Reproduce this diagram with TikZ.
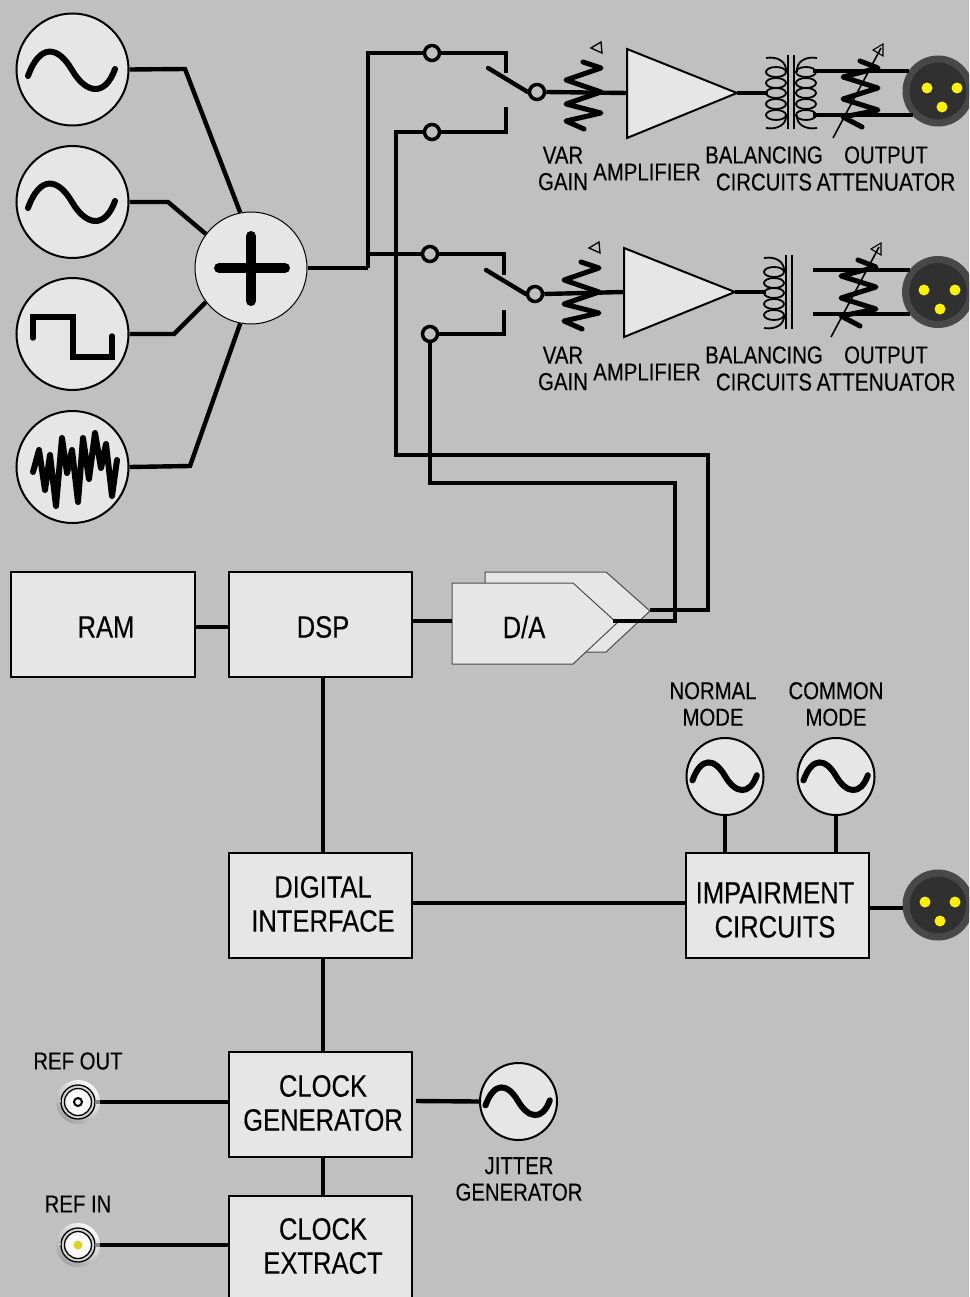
\documentclass[tikz,border=0pt]{standalone}
\usepackage{fontspec}
\setmainfont[FakeStretch=0.83,FakeBold=0.25]{Liberation Sans}
\definecolor{bg}{HTML}{C0C0C0}
\definecolor{pale}{HTML}{E6E6E6}
\definecolor{xlrout}{HTML}{484848}
\definecolor{xlrin}{HTML}{303030}
\tikzset{
  wire/.style={line width=4.4pt,line join=miter,line cap=butt},
  wave/.style={line width=6pt,line cap=round,line join=round},
  zig/.style={line width=5pt,line cap=round,line join=round},
  coil/.style={line width=1.8pt},
  osc/.style={circle,draw=black,line width=2pt,fill=pale,inner sep=0pt,minimum size=112pt},
  oscs/.style={circle,draw=black,line width=2pt,fill=pale,inner sep=0pt,minimum size=77pt},
  term/.style={circle,draw=black,line width=3.5pt,fill=bg,inner sep=0pt,minimum size=15pt},
  boxn/.style={rectangle,draw=black,line width=1.6pt,fill=pale,inner sep=0pt,minimum width=183pt,minimum height=105pt},
  bigl/.style={inner sep=0pt,align=center,font=\bigtxt},
  lab/.style={inner sep=0pt,align=center,font=\smalltxt},
  xlrn/.style={circle,fill=xlrin,draw=xlrout,line width=7pt,inner sep=0pt,minimum size=64pt},
  pin/.style={circle,fill=yellow,inner sep=0pt,minimum size=11pt},
  bncn/.style={circle,inner sep=0pt,minimum size=44pt,top color=white!90!bg,bottom color=bg!85!black,shading angle=-35},
  sinewave/.pic={\draw[wave] (-44,6) .. controls (-32,-27) and (-14,-24) .. (0,0) .. controls (14,24) and (33,27) .. (43,-1);},
  channelzig/.pic={
    \draw[zig] (583,62) -- (601,68) -- (566,80) -- (601,92) -- (566,104) -- (601,113) -- (566,121) -- (584,129);
    \draw[line width=1.3pt] (591,48) -- (601,42) -- (602,53) -- cycle;
    \draw[coil] (766,58) .. controls (778,56) and (787,62) .. (786,72);
    \foreach \yy in {72,83,93,104,115} \draw[coil] (776,\yy) ellipse [x radius=10,y radius=5];
    \draw[coil] (766,128) .. controls (778,130) and (787,124) .. (786,115);
    \draw[line width=1.6pt] (788,55) -- (788,129) (794,55) -- (794,129);
  },
  attzig/.pic={
    \draw[zig] (860,61) -- (878,68) -- (843,77) -- (878,88) -- (843,99) -- (878,110) -- (843,117) -- (862,127);
    \draw[line width=1.6pt] (833,138) -- (881,48);
    \draw[line width=1.1pt] (873,50) -- (883,44) -- (883,56) -- cycle;
  }
}
\newcommand{\bigtxt}{\fontsize{30.8}{34}\selectfont}
\newcommand{\smalltxt}{\fontsize{24.5}{26.5}\selectfont}
\begin{document}
\begin{tikzpicture}[x=1pt,y=-1pt]
\useasboundingbox (0,0) rectangle (969,1297);
\clip (0,0) rectangle (969,1297);
\fill[bg] (0,0) rectangle (969,1297);

% sources and mixer
\node[osc] (o1) at (72.5,69.5) {};
\node[osc] (o2) at (72.5,202) {};
\node[osc] (o3) at (72.5,334) {};
\node[osc] (o4) at (72.5,467) {};
\node[circle,draw=black,line width=1pt,fill=pale,inner sep=0pt,minimum size=112pt] (mix) at (251,268) {};
\draw[line width=10pt,line cap=round] (219,268) -- (285,268) (251,236) -- (251,301);
\pic at (72,70) {sinewave};
\pic at (72,202) {sinewave};
\draw[wave,line width=5.5pt,line join=miter] (33,338) -- (33,317) -- (73,317) -- (73,357) -- (112,357) -- (112,336);
\draw[line width=6pt,line cap=round,line join=round] (33,472) -- (39,450) -- (45,490) -- (50,455) -- (56,506) -- (62,438) -- (67,473) -- (72,450) -- (78,502) -- (83,438) -- (89,479) -- (95,433) -- (101,468) -- (106,444) -- (112,496) -- (117,460);
\draw[wire] (o1.east) -- (185,69) -- (mix.101.7);
\draw[wire] (o2.east) -- (168,202) -- (mix.143);
\draw[wire] (o3.east) -- (174,334) -- (mix.217);
\draw[wire] (o4.east) -- (190,466) -- (mix.259);

% switch terminals
\node[term] (s1a) at (432,53) {};
\node[term] (s1b) at (432,132) {};
\node[term] (s1o) at (537,92) {};
\node[term] (s2a) at (430,254) {};
\node[term] (s2b) at (430,334) {};
\node[term] (s2o) at (535,294) {};
\coordinate (j) at (368,268);
\draw[wire] (mix.east) -- (j);
\draw[wire] (j) -- (368,53) -- (s1a.west);
\draw[wire] (368,254) -- (s2a.west);
\draw[wire] (s1a.east) -- (506,53) -- (506,73);
\draw[wire] (s1b.east) -- (506,132) -- (506,107);
\draw[wire,line cap=round] (488,68) -- (s1o.west);
\draw[wire] (s2a.east) -- (504,254) -- (504,275);
\draw[wire] (s2b.east) -- (504,334) -- (504,310);
\draw[wire,line cap=round] (486,270) -- (s2o.west);

% channel 1
\coordinate (a1i) at (627,93);
\coordinate (a1o) at (737,93);
\filldraw[fill=pale,draw=black,line width=2pt] (627,49) -- (a1o) -- (627,138) -- cycle;
\draw[wire] (s1o.east) -- (a1i);
\pic at (0,0) {channelzig};
\draw[wire] (a1o) -- (768,93);
\draw[coil] (817,58) .. controls (805,56) and (796,62) .. (797,72);
\foreach \yy in {72,83,93,104,115} \draw[coil] (806,\yy) ellipse [x radius=10,y radius=5];
\draw[coil] (817,128) .. controls (805,130) and (796,124) .. (797,115);
\node[xlrn] (x1) at (938,91) {};
\node[pin] at (927,88) {};
\node[pin] at (957,88) {};
\node[pin] at (942,107) {};
\coordinate (t1a) at (813,71);
\coordinate (t1b) at (813,115);
\draw[wire] (t1a) -- (x1.145.2 |- t1a);
\draw[wire] (t1b) -- (913,115);
\pic at (0,0) {attzig};

% channel 2
\coordinate (a2i) at (624,292);
\coordinate (a2o) at (735,292);
\filldraw[fill=pale,draw=black,line width=2pt] (624,248) -- (a2o) -- (624,337) -- cycle;
\draw[wire] (s2o.east) -- (a2i);
\pic at (-2,200) {channelzig};
\draw[wire] (a2o) -- (766,292);
\node[xlrn,minimum size=65pt] (x2) at (938,292) {};
\node[pin] at (924,290) {};
\node[pin] at (955,290) {};
\node[pin] at (940,309) {};
\coordinate (t2a) at (813,270);
\coordinate (t2b) at (813,314);
\draw[wire] (t2a) -- (910,270);
\draw[wire] (t2b) -- (910,314);
\pic at (-2,199) {attzig};

% channel labels
\node[lab] at (563,168.5) {VAR\\GAIN};
\node[lab] at (647,172) {AMPLIFIER};
\node[lab] at (764,155) {BALANCING};
\node[lab] at (764,182) {CIRCUITS};
\node[lab] at (886,155) {OUTPUT};
\node[lab,font=\fontsize{25.3}{26.5}\selectfont] at (886,182) {ATTENUATOR};
\node[lab] at (563,368.5) {VAR\\GAIN};
\node[lab] at (647,372) {AMPLIFIER};
\node[lab] at (764,355) {BALANCING};
\node[lab] at (764,382) {CIRCUITS};
\node[lab] at (886,355) {OUTPUT};
\node[lab,font=\fontsize{25.3}{26.5}\selectfont] at (886,382) {ATTENUATOR};

% blocks
\node[boxn,minimum width=184pt] (ram) at (103,624.5) {};
\node[boxn] (dsp) at (320.5,624.5) {};
\node[boxn] (dig) at (320.5,905.5) {};
\node[boxn] (imp) at (777.5,905.5) {};
\node[boxn] (clk) at (320.5,1104.5) {};
\node[boxn] (ext) at (320.5,1248.5) {};
\node[bigl] at (106,627) {RAM};
\node[bigl] at (323,627) {DSP};
\node[bigl] at (323,904) {DIGITAL\\INTERFACE};
\node[bigl] at (775,910) {IMPAIRMENT\\CIRCUITS};
\node[bigl] at (323,1103) {CLOCK\\GENERATOR};
\node[bigl] at (323,1246) {CLOCK\\EXTRACT};

% D/A
\filldraw[fill=pale,draw=black!70,line width=1pt] (485,572) -- (606,572) -- (650,611) -- (606,652) -- (485,652) -- cycle;
\filldraw[fill=pale,draw=black!70,line width=1pt] (452,583) -- (573,583) -- (617,623) -- (573,664) -- (452,664) -- cycle;
\node[bigl] (da) at (524,627) {D/A};
\coordinate (da1) at (650,610);
\coordinate (da2) at (613,621);
\coordinate (dain) at (452,621);

% routing
\draw[wire] (s1b.west) -- (396,132) -- (396,455) -- (708,455) -- (708,610) -- (da1);
\draw[wire] (s2b.south) -- (430,483) -- (675,483) -- (675,621) -- (da2);

\coordinate (v) at (323,0);
\coordinate (h) at (0,903);
\draw[wire] (ram.east |- 0,627) -- (dsp.west |- 0,627);
\draw[wire] (dsp.east |- dain) -- (dain);
\draw[wire] (dsp.south -| v) -- (dig.north -| v);
\draw[wire] (dig.east |- h) -- (imp.west |- h);
\draw[wire] (dig.south -| v) -- (clk.north -| v);
\draw[wire] (clk.south -| v) -- (ext.north -| v);

% impairment
\node[oscs] (nm) at (725,776.5) {};
\node[oscs] (cm) at (836,776.5) {};
\pic[scale=.74] at (725,776) {sinewave};
\pic[scale=.74] at (836,776) {sinewave};
\draw[wire] (nm.south) -- (nm.south |- imp.north);
\draw[wire] (cm.south) -- (cm.south |- imp.north);
\node[xlrn] (x3) at (938,905) {};
\node[pin] at (925,902) {};
\node[pin] at (955,902) {};
\node[pin] at (940,921) {};
\draw[wire] (imp.east |- 0,908) -- (x3.west |- 0,908);
\node[lab] at (713,704) {NORMAL\\MODE};
\node[lab] at (836,704) {COMMON\\MODE};

% clock
\node[oscs] (jit) at (518.5,1101.5) {};
\pic[scale=.74] at (518,1101) {sinewave};
\draw[wire] (416,1101) -- (jit.west);
\node[lab] at (519,1179) {JITTER\\GENERATOR};

\node[bncn] (b1) at (78,1102) {};
\node[bncn] (b2) at (78,1245) {};
\foreach \bb in {b1,b2}{
  \draw[line width=1.3pt,fill=bg!70!white] (\bb) circle [radius=17];
  \draw[line width=1.3pt,inner color=white,outer color=white!85!bg] (\bb) circle [radius=13.5];
  \fill[bg] ([xshift=-22pt]\bb.center) rectangle ([xshift=-17pt,yshift=2pt]\bb.center);
  \fill[bg!70!black] ([xshift=17pt,yshift=-2pt]\bb.center) rectangle ([xshift=22pt,yshift=2pt]\bb.center);
}
\draw[line width=2pt] (b1) circle [radius=4];
\fill[yellow!85!black] (b2) circle [radius=4.5];
\draw[wire] (b1.east) -- (clk.west |- b1.east);
\draw[wire] (b2.east) -- (ext.west |- b2.east);
\node[lab] at (78,1061) {REF OUT};
\node[lab] at (78,1204) {REF IN};
\end{tikzpicture}
\end{document}
